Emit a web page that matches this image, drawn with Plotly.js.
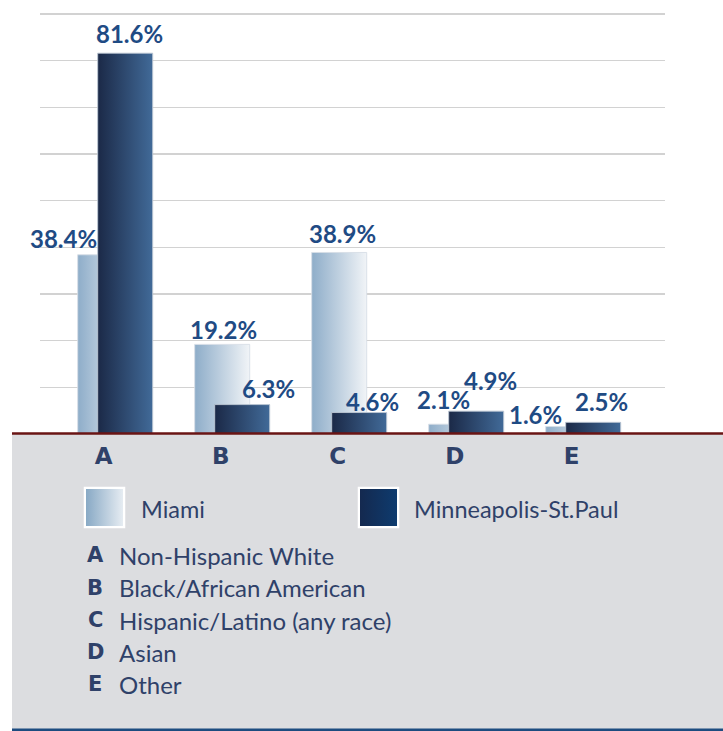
<!DOCTYPE html>
<html>
<head>
<meta charset="utf-8">
<script src="https://cdn.plot.ly/plotly-3.0.1.min.js"></script>
<style>
  html, body { margin: 0; padding: 0; background: #ffffff; }
  #chart { width: 723px; height: 731px; }
</style>
</head>
<body>
<div id="chart"></div>
<script>
// Population by race/ethnicity, two metro areas
const categories = ['A', 'B', 'C', 'D', 'E'];
const categoryNames = [
  'Non-Hispanic White',
  'Black/African American',
  'Hispanic/Latino (any race)',
  'Asian',
  'Other'
];
const seriesNames = ['Miami', 'Minneapolis-St.Paul'];
const miami = [38.4, 19.2, 38.9, 2.1, 1.6];
const minneapolis = [81.6, 6.3, 4.6, 4.9, 2.5];
const gridValues = [10, 20, 30, 40, 50, 60, 70, 80, 90];

// ---- page geometry (pixels) ----
const W = 723, H = 731;
const px = x => x / W;              // pixel x -> paper
const py = y => 1 - y / H;          // pixel y -> paper
const plotLeft = 40, plotRight = 665;
const pxPerUnitY = 4.667;           // pixels per percentage point
const baseY = 434;                  // pixel y of 0%
const yMax = 92;
const topY = baseY - yMax * pxPerUnitY;
const unitPx = 117;                 // pixels per category
const firstCenter = 103.7;          // pixel x of category A
const barW = 55 / unitPx;

const navy = '#2f4169';
const valueBlue = '#1f4b84';
const valueFont = {family: 'Lato, "Open Sans", sans-serif', weight: 700};
const letterFont = {family: '"DejaVu Sans", sans-serif', weight: 700};
const textFont = {family: 'Lato, "Open Sans", sans-serif'};

const xIdx = categories.map((c, i) => i);

const traces = [
  {
    type: 'bar', name: seriesNames[0], x: xIdx, y: miami,
    width: barW, offset: -26 / unitPx,
    marker: {color: '#bfd0df', line: {color: 'rgba(215,222,230,0.9)', width: 1}},
    hoverinfo: 'skip'
  },
  {
    type: 'bar', name: seriesNames[1], x: xIdx, y: minneapolis,
    width: barW, offset: -6 / unitPx,
    marker: {color: '#2d4d74', line: {color: 'rgba(190,200,212,0.9)', width: 1}},
    hoverinfo: 'skip'
  }
];

// label placement around each bar top: [xshift, yshift] in pixels
const miamiLabelShift = [[-40, 16], [3, 15], [5, 19], [-11, 25], [-36, 12]];
const minneLabelShift = [[26, 20], [48, 16], [35, 11], [36, 31], [30, 21]];

const annotations = [];
const addValueLabels = (vals, shifts) => {
  vals.forEach((v, i) => {
    annotations.push({
      xref: 'x', yref: 'y', x: i, y: v,
      text: v.toFixed(1) + '%', showarrow: false,
      xanchor: 'center', yanchor: 'middle',
      xshift: shifts[i][0], yshift: shifts[i][1],
      font: Object.assign({size: 24, color: valueBlue}, valueFont)
    });
  });
};
addValueLabels(miami, miamiLabelShift);
addValueLabels(minneapolis, minneLabelShift);

// legend text
annotations.push({
  xref: 'paper', yref: 'paper', x: px(139), y: py(509),
  text: seriesNames[0], showarrow: false, xanchor: 'left', yanchor: 'middle',
  font: Object.assign({size: 23.5, color: navy}, textFont)
});
annotations.push({
  xref: 'paper', yref: 'paper', x: px(412), y: py(509),
  text: seriesNames[1], showarrow: false, xanchor: 'left', yanchor: 'middle',
  font: Object.assign({size: 23.5, color: navy}, textFont)
});

// category key
const keyRowY = [555, 587.5, 620, 652, 684];
categories.forEach((c, i) => {
  annotations.push({
    xref: 'paper', yref: 'paper', x: px(95), y: py(keyRowY[i]),
    text: c, showarrow: false, xanchor: 'center', yanchor: 'middle',
    font: Object.assign({size: 21, color: navy}, letterFont)
  });
  annotations.push({
    xref: 'paper', yref: 'paper', x: px(117), y: py(keyRowY[i]),
    text: categoryNames[i], showarrow: false, xanchor: 'left', yanchor: 'middle',
    font: Object.assign({size: 24, color: navy}, textFont)
  });
});

// gradient swatch images for the legend
const swatch = (c1, c2) => {
  const svg = '<svg xmlns="http://www.w3.org/2000/svg" width="42" height="42">' +
    '<defs><linearGradient id="g" x1="0" x2="1" y1="0" y2="0">' +
    '<stop offset="0" stop-color="' + c1 + '"/><stop offset="1" stop-color="' + c2 + '"/>' +
    '</linearGradient></defs>' +
    '<rect x="0" y="0" width="42" height="42" fill="#ffffff"/>' +
    '<rect x="2.5" y="2.5" width="37" height="37" fill="url(#g)"/></svg>';
  return 'data:image/svg+xml;charset=utf-8,' + encodeURIComponent(svg);
};

const images = [
  {source: swatch('#88a9c5', '#e6ecf2'), xref: 'paper', yref: 'paper',
   x: px(83.5), y: py(486.5), sizex: 42 / W, sizey: 42 / H,
   xanchor: 'left', yanchor: 'top', sizing: 'stretch', layer: 'above'},
  {source: swatch('#14294f', '#0e3b6e'), xref: 'paper', yref: 'paper',
   x: px(357.5), y: py(486.5), sizex: 42 / W, sizey: 42 / H,
   xanchor: 'left', yanchor: 'top', sizing: 'stretch', layer: 'above'}
];

const shapes = [
  // grey key panel below the axis
  {type: 'rect', xref: 'paper', yref: 'paper', layer: 'below',
   x0: px(12), x1: 1.01, y0: -0.01, y1: py(baseY),
   fillcolor: '#dcdde0', line: {width: 0}},
  // dark red baseline
  {type: 'line', xref: 'paper', yref: 'paper', layer: 'above',
   x0: px(12), x1: 1.01, y0: py(baseY - 0.5), y1: py(baseY - 0.5),
   line: {color: '#6a1414', width: 2.5}},
  // blue rule at the bottom
  {type: 'line', xref: 'paper', yref: 'paper', layer: 'above',
   x0: px(12), x1: 1.01, y0: py(729.8), y1: py(729.8),
   line: {color: '#1d4c80', width: 2.5}}
];

const layout = {
  width: W, height: H,
  margin: {l: 0, r: 0, t: 0, b: 0, pad: 0},
  paper_bgcolor: '#ffffff', plot_bgcolor: '#ffffff',
  showlegend: false,
  barmode: 'overlay',
  xaxis: {
    domain: [px(plotLeft), px(plotRight)],
    range: [(plotLeft - firstCenter) / unitPx, (plotRight - firstCenter) / unitPx],
    tickvals: xIdx, ticktext: categories,
    ticks: '', ticklabelstandoff: 6,
    tickfont: Object.assign({size: 23, color: navy}, letterFont),
    showgrid: false, zeroline: false, showline: false, fixedrange: true
  },
  yaxis: {
    domain: [py(baseY), py(topY)],
    range: [0, yMax],
    tickmode: 'array', tickvals: gridValues,
    showticklabels: false, ticks: '',
    showgrid: true, gridcolor: '#d2d2d2', gridwidth: 1.5,
    zeroline: false, showline: false, fixedrange: true
  },
  annotations: annotations,
  shapes: shapes,
  images: images
};

// horizontal gradient fills applied to the drawn bar paths
const barGradients = [
  {id: 'barFillMiami', stops: ['#8eadc9', '#f1f4f7']},
  {id: 'barFillMinne', stops: ['#1b2947', '#416a98']}
];

Plotly.newPlot('chart', traces, layout, {staticPlot: true, displayModeBar: false}).then(gd => {
  const ns = 'http://www.w3.org/2000/svg';
  const defs = gd.querySelector('.main-svg defs');
  barGradients.forEach(g => {
    const lg = document.createElementNS(ns, 'linearGradient');
    lg.setAttribute('id', g.id);
    lg.setAttribute('x1', '0'); lg.setAttribute('x2', '1');
    lg.setAttribute('y1', '0'); lg.setAttribute('y2', '0');
    g.stops.forEach((c, k) => {
      const s = document.createElementNS(ns, 'stop');
      s.setAttribute('offset', String(k));
      s.setAttribute('stop-color', c);
      lg.appendChild(s);
    });
    defs.appendChild(lg);
  });
  const traceGroups = gd.querySelectorAll('.barlayer .trace');
  traceGroups.forEach((tg, t) => {
    tg.querySelectorAll('.point path').forEach(p => {
      p.style.fill = 'url(#' + barGradients[t].id + ')';
    });
  });
});
</script>
</body>
</html>
